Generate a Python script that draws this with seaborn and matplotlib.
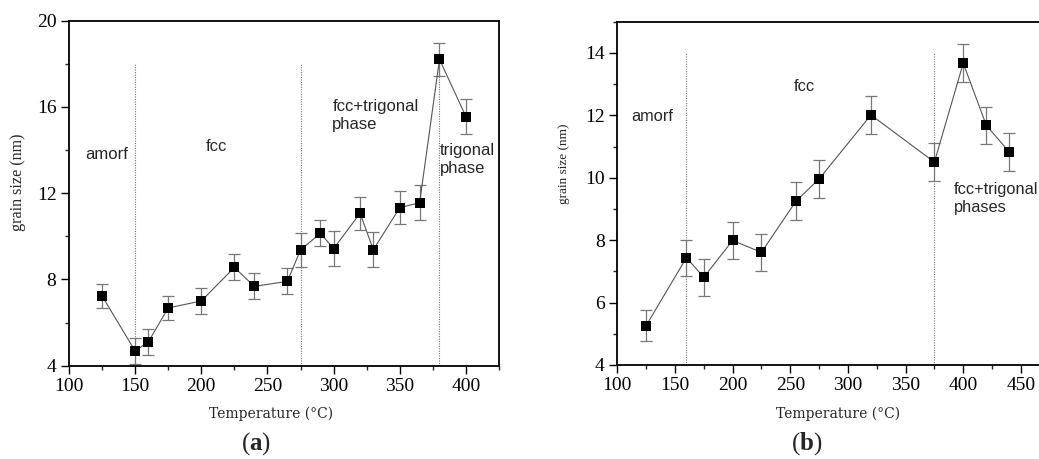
import numpy as np
import matplotlib
matplotlib.use("Agg")
import matplotlib.pyplot as plt
import seaborn as sns
import pandas as pd
from matplotlib.ticker import MultipleLocator

# (a) grain size vs temperature
temp_a = [125, 150, 160, 175, 200, 225, 240, 265, 275, 290, 300, 320, 330, 350, 365, 380, 400]
size_a = [7.23, 4.68, 5.11, 6.68, 7.0, 8.56, 7.68, 7.91, 9.37, 10.14, 9.43, 11.07, 9.38, 11.33, 11.56, 18.21, 15.55]
err_a = [0.56, 0.6, 0.6, 0.57, 0.6, 0.6, 0.6, 0.6, 0.8, 0.6, 0.8, 0.77, 0.8, 0.78, 0.8, 0.77, 0.8]
bounds_a = [150, 275, 380]
labels_a = ["amorf", "fcc", "fcc+trigonal\nphase", "trigonal\nphase"]
label_pos_a = [(112, 13.8), (203, 14.15), (299, 15.6), (380, 13.55)]

# (b)
temp_b = [125, 160, 175, 200, 225, 255, 275, 320, 375, 400, 420, 440]
size_b = [5.26, 7.44, 6.81, 7.99, 7.61, 9.25, 9.96, 12.01, 10.5, 13.67, 11.68, 10.82]
err_b = [0.5, 0.58, 0.6, 0.6, 0.6, 0.6, 0.6, 0.6, 0.6, 0.6, 0.6, 0.6]
bounds_b = [160, 375]
labels_b = ["amorf", "fcc", "fcc+trigonal\nphases"]
label_pos_b = [(112, 11.95), (253, 12.93), (391.5, 9.33)]

sns.set_style("ticks")
plt.rcParams["font.family"] = ["Liberation Serif", "DejaVu Serif"]
plt.rcParams["mathtext.fontset"] = "custom"
plt.rcParams["mathtext.rm"] = "Liberation Serif"
plt.rcParams["mathtext.bf"] = "Liberation Serif:bold"

fig = plt.figure(figsize=(10.39, 4.59), dpi=100)
ax1 = fig.add_axes([0.0664, 0.2033, 0.4139, 0.7516])
ax2 = fig.add_axes([0.5941, 0.2048, 0.4059, 0.748])


def draw(ax, t, s, e, bounds, labels, label_pos, ytop, fs=12):
    df = pd.DataFrame({"T": t, "size": s})
    for b in bounds:
        ax.plot([b, b], [4, ytop], color="#777777", lw=0.8, ls=(0, (1, 1.2)), zorder=1)
    ax.errorbar(t, s, yerr=e, fmt="none", ecolor="#777777", elinewidth=0.9,
                capsize=4.5, capthick=0.9, zorder=2)
    sns.lineplot(data=df, x="T", y="size", ax=ax, color="#555555", lw=0.8,
                 sort=False, zorder=3)
    sns.scatterplot(data=df, x="T", y="size", ax=ax, marker="s", color="black",
                    s=60, edgecolor="black", linewidth=0, zorder=4)
    for txt, (x, y) in zip(labels, label_pos):
        ax.text(x, y, txt, family="Liberation Sans", fontsize=fs, va="center",
                ha="left", linespacing=1.25)
    ax.xaxis.set_major_locator(MultipleLocator(50))
    ax.xaxis.set_minor_locator(MultipleLocator(25))
    ax.tick_params(which="major", direction="out", length=6, width=1,
                   labelsize=14, pad=3, colors="black")
    ax.tick_params(which="minor", direction="out", length=3, width=1)
    for sp in ax.spines.values():
        sp.set_linewidth(1.3)
        sp.set_color("black")


draw(ax1, temp_a, size_a, err_a, bounds_a, labels_a, label_pos_a, 18)
ax1.set_xlim(100, 425)
ax1.set_ylim(4, 20)
ax1.yaxis.set_major_locator(MultipleLocator(4))
ax1.yaxis.set_minor_locator(MultipleLocator(2))
ax1.set_xlabel("Temperature (°C)", family="DejaVu Serif", fontsize=10)
ax1.set_ylabel("grain size (nm)", fontsize=11.6)
ax1.xaxis.set_label_coords(0.47, -0.118)
ax1.yaxis.set_label_coords(-0.099, 0.531)

draw(ax2, temp_b, size_b, err_b, bounds_b, labels_b, label_pos_b, 14, fs=11.8)
ax2.set_xlim(100, 465.7)
ax2.set_ylim(4, 15)
ax2.yaxis.set_major_locator(MultipleLocator(2))
ax2.yaxis.set_minor_locator(MultipleLocator(1))
ax2.spines["right"].set_visible(False)
ax2.set_xlabel("Temperature (°C)", family="DejaVu Serif", fontsize=10)
ax2.set_ylabel("grain size (nm)", fontsize=9.5)
ax2.xaxis.set_label_coords(0.524, -0.122)
ax2.yaxis.set_label_coords(-0.112, 0.585)

fig.text(256 / 1039, 1 - 444 / 459, r"($\mathbf{a}$)", fontsize=18, ha="center", va="center")
fig.text(807 / 1039, 1 - 444 / 459, r"($\mathbf{b}$)", fontsize=18, ha="center", va="center")

fig.savefig("out.png", dpi=100)
